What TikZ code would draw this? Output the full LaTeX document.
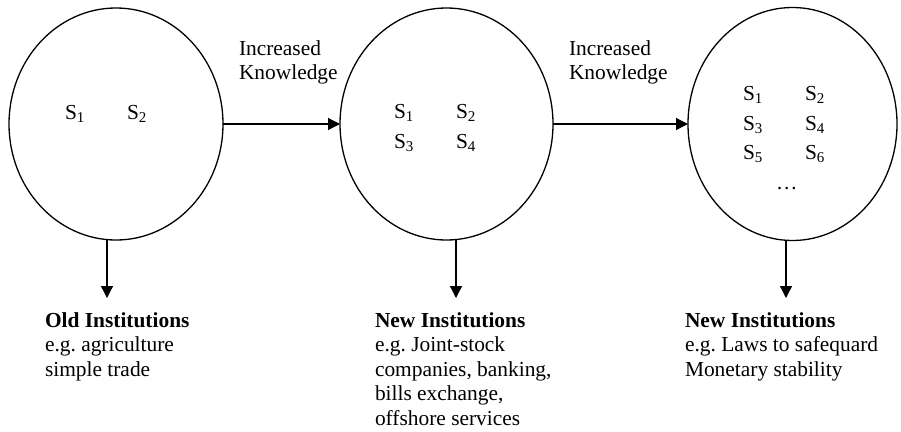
\documentclass[tikz,border=0pt]{standalone}
\usepackage{fontspec}
\setmainfont{Liberation Serif}
\usetikzlibrary{shapes.geometric,arrows.meta,calc}
\frenchspacing

\tikzset{
  stage/.style={draw, ellipse, line width=1.3pt, inner sep=0pt, outer sep=0pt},
  flow/.style={line width=1.3pt, -{Triangle[length=12pt,width=12pt]}},
  txt/.style={anchor=base west, inner sep=0pt, outer sep=0pt, align=left,
              font=\fontsize{21.4}{24.6}\selectfont},
}

\begin{document}
\begin{tikzpicture}[x=1pt,y=-1pt]
  \useasboundingbox (0,0) rectangle (901,431);

  % the three stages of knowledge
  \node[stage, minimum width=214pt, minimum height=232pt] (c1) at (116,124) {};
  \node[stage, minimum width=213pt, minimum height=232pt] (c2) at (446.5,124) {};
  \node[stage, minimum width=209pt, minimum height=233pt] (c3) at (792.5,124) {};

  % arrows between stages (multi-line nodes are placed by their last baseline)
  \draw[flow] (c1.east) -- (c2.west);
  \draw[flow] (c2.east) -- (c3.west);
  \node[txt] (k1) at (239,79.8) {Increased\\Knowledge};
  \node[txt] (k2) at (569,79.8) {Increased\\Knowledge};

  % sectors inside each stage
  \node[txt] (a1) at (65,119) {S\textsubscript{1}};
  \node[txt] (a2) at (127,119) {S\textsubscript{2}};

  \node[txt] (b1) at (394,118) {S\textsubscript{1}};
  \node[txt] (b2) at (456,118) {S\textsubscript{2}};
  \node[txt] (b3) at (394,148) {S\textsubscript{3}};
  \node[txt] (b4) at (456,148) {S\textsubscript{4}};

  \node[txt] (d1) at (743,100) {S\textsubscript{1}};
  \node[txt] (d2) at (805,100) {S\textsubscript{2}};
  \node[txt] (d3) at (743,130) {S\textsubscript{3}};
  \node[txt] (d4) at (805,130) {S\textsubscript{4}};
  \node[txt] (d5) at (743,159) {S\textsubscript{5}};
  \node[txt] (d6) at (805,159) {S\textsubscript{6}};
  \node[txt] (d7) at (776,189) {…};

  % resulting institutions
  \coordinate (t1) at (107,298);
  \coordinate (t2) at (456,298);
  \coordinate (t3) at (786,298);
  \draw[flow] (c1.south -| t1) -- (t1);
  \draw[flow] (c2.south -| t2) -- (t2);
  \draw[flow] (c3.south -| t3) -- (t3);

  \node[txt] (i1) at (45,376.2) {\textbf{Old Institutions}\\e.g. agriculture\\simple trade};
  \node[txt] (i2) at (375,425.4) {\textbf{New Institutions}\\e.g. Joint-stock\\companies, banking,\\bills exchange,\\offshore services};
  \node[txt] (i3) at (685,376.2) {\textbf{New Institutions}\\e.g. Laws to safequard\\Monetary stability};
\end{tikzpicture}
\end{document}
